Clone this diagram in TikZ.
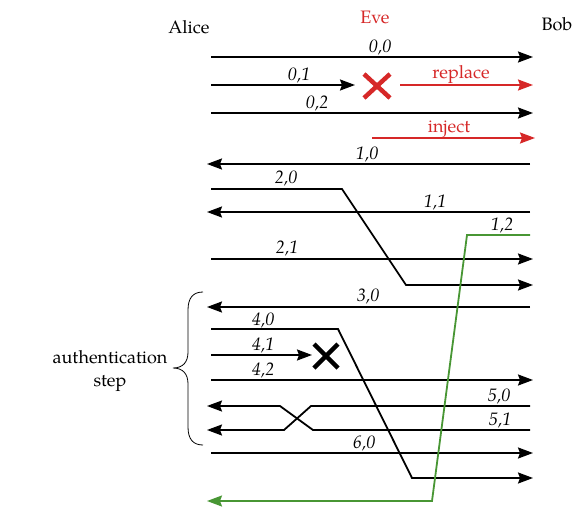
\documentclass[tikz,border=0pt]{standalone}
\usepackage{fontspec}
\setmainfont{TeX Gyre Pagella}
\usetikzlibrary{arrows.meta}
\definecolor{evered}{RGB}{214,40,40}
\definecolor{auggreen}{RGB}{72,150,52}
\begin{document}
\begin{tikzpicture}[x=1pt,y=-1pt,
  tip/.style={-{Stealth[length=15pt,width=11pt,inset=2pt]}},
  wire/.style={line width=1.8pt, line join=miter},
  msg/.style={wire,tip},
  lbl/.style={font=\fontsize{18}{21}\selectfont\itshape, inner sep=0pt, anchor=base},
  party/.style={font=\fontsize{18}{21}\selectfont, inner sep=0pt, anchor=base},
  cross/.style={line width=4.5pt}]
\useasboundingbox (0,0) rectangle (575,520);

% parties
\node[party] (alice) at (189,33) {Alice};
\node[party, text=evered] (eve) at (375,23) {Eve};
\node[party] (bob) at (557,30) {Bob};

% ---------- coordinates ----------
\coordinate (a00) at (211,57);  \coordinate (b00) at (533,57);
\coordinate (a01) at (211,85);  \coordinate (b01) at (355,85);
\coordinate (x1)  at (377,86);
\coordinate (r0)  at (400,85);  \coordinate (r1)  at (533,85);
\coordinate (a02) at (211,113); \coordinate (b02) at (533,113);
\coordinate (i0)  at (372,138); \coordinate (i1)  at (535,138);
\coordinate (b10) at (530,164); \coordinate (a10) at (207,164);
\coordinate (a20) at (211,189); \coordinate (k20) at (342,189);
\coordinate (l20) at (406,285); \coordinate (b20) at (533,285);
\coordinate (b11) at (530,212); \coordinate (a11) at (207,212);
\coordinate (b12) at (530,235); \coordinate (k12) at (467,235);
\coordinate (l12) at (432,501); \coordinate (a12) at (207,501);
\coordinate (a21) at (211,259); \coordinate (b21) at (533,259);
\coordinate (b30) at (530,307); \coordinate (a30) at (207,307);
\coordinate (a40) at (211,329); \coordinate (k40) at (338,329);
\coordinate (l40) at (412,478); \coordinate (b40) at (533,478);
\coordinate (a41) at (211,355); \coordinate (b41) at (312,355);
\coordinate (x2)  at (326,356);
\coordinate (a42) at (211,380); \coordinate (b42) at (533,380);
\coordinate (b50) at (530,406); \coordinate (k50) at (311,406);
\coordinate (l50) at (284,430); \coordinate (a50) at (207,430);
\coordinate (b51) at (530,430); \coordinate (k51) at (313,430);
\coordinate (l51) at (280,406); \coordinate (a51) at (207,406);
\coordinate (a60) at (211,453); \coordinate (b60) at (533,453);

% ---------- messages ----------
\draw[msg] (a00) -- (b00);
\draw[msg] (a01) -- (b01);
\draw[msg, evered] (r0) -- (r1);
\draw[msg] (a02) -- (b02);
\draw[msg, evered] (i0) -- (i1);
\draw[msg] (b10) -- (a10);
\draw[msg] (a20) -- (k20) -- (l20) -- (b20);
\draw[msg] (b11) -- (a11);
\draw[msg] (a21) -- (b21);
\draw[msg] (b30) -- (a30);
\draw[msg] (a40) -- (k40) -- (l40) -- (b40);
\draw[msg] (a41) -- (b41);
\draw[msg] (a42) -- (b42);
\draw[msg] (b50) -- (k50) -- (l50) -- (a50);
\draw[msg] (b51) -- (k51) -- (l51) -- (a51);
\draw[msg] (a60) -- (b60);
\draw[msg, auggreen] (b12) -- (k12) -- (l12) -- (a12);

% crosses
\draw[cross, evered] ([shift={(-13,-12)}]x1) -- ([shift={(13,12)}]x1)
                     ([shift={(-13,12)}]x1) -- ([shift={(13,-12)}]x1);
\draw[cross] ([shift={(-12,-12)}]x2) -- ([shift={(12,12)}]x2)
             ([shift={(-12,12)}]x2) -- ([shift={(12,-12)}]x2);

% ---------- labels ----------
\node[lbl] (t00) at (380,52) {0,0};
\node[lbl] (t01) at (299,80) {0,1};
\node[party, text=evered] (trep) at (461,78) {replace};
\node[lbl] (t02) at (317,108) {0,2};
\node[party, text=evered] (tinj) at (449,132) {inject};
\node[lbl] (t10) at (367,159) {1,0};
\node[lbl] (t20) at (286,183) {2,0};
\node[lbl] (t11) at (435,207) {1,1};
\node[lbl] (t12) at (502,230) {1,2};
\node[lbl] (t21) at (287,253) {2,1};
\node[lbl] (t30) at (368,301) {3,0};
\node[lbl] (t40) at (263,325) {4,0};
\node[lbl] (t41) at (263,350) {4,1};
\node[lbl] (t42) at (263,375) {4,2};
\node[lbl] (t50) at (499,401) {5,0};
\node[lbl] (t51) at (500,425) {5,1};
\node[lbl] (t60) at (364,448) {6,0};

% brace
\draw[line width=0.8pt] (203,292) .. controls (193,292) and (188,298) .. (188,310)
  -- (188,352) .. controls (188,362) and (183,368) .. (173,368)
  .. controls (183,368) and (188,374) .. (188,384)
  -- (188,427) .. controls (188,439) and (193,445) .. (203,445);
\node[party] (auth) at (110,363) {authentication};
\node[party] (step) at (110,386) {step};
\end{tikzpicture}
\end{document}
